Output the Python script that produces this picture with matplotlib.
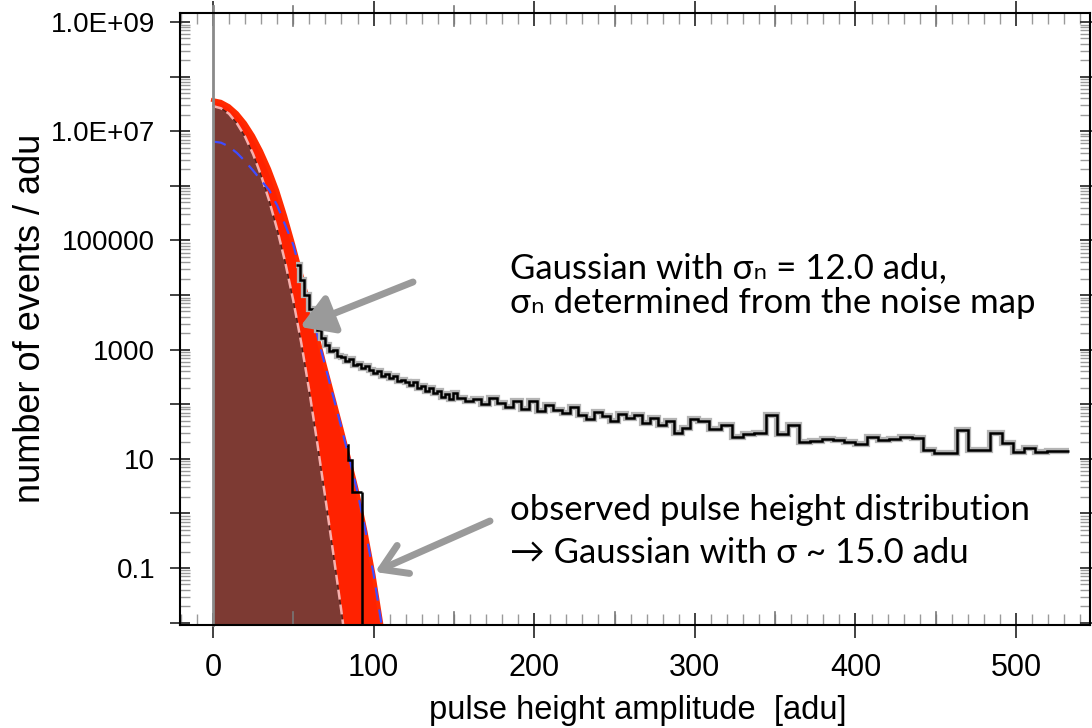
import numpy as np
import matplotlib.pyplot as plt
from matplotlib.ticker import FixedLocator, MultipleLocator, NullFormatter, FuncFormatter, LogLocator

plt.rcParams['font.family'] = ['Liberation Sans', 'DejaVu Sans']

# Gaussian curves (log10 of events / adu)
curve_x = [0, 5, 10, 15, 20, 25, 30, 35, 40, 45, 50, 55, 60, 65, 70, 75, 80, 85, 90, 95, 100, 105]
red_log = [7.57, 7.54, 7.46, 7.33, 7.15, 6.92, 6.64, 6.31, 5.92, 5.45, 4.93, 4.38,
           3.82, 3.25, 2.68, 2.12, 1.56, 0.98, 0.38, -0.33, -1.12, -2.05]
blue_log = [6.81, 6.79, 6.72, 6.60, 6.45, 6.28, 6.10, 5.92, 5.64, 5.28, 4.92, 4.38,
            3.83, 3.26, 2.69, 2.13, 1.57, 0.99, 0.39, -0.32, -1.11, -2.04]
noise_x = [0, 5, 10, 15, 20, 25, 30, 35, 40, 45, 50, 55, 60, 65, 70, 75, 80, 82]
noise_log = [7.46, 7.42, 7.32, 7.14, 6.90, 6.58, 6.19, 5.73, 5.20, 4.60, 3.90, 3.12,
             2.24, 1.28, 0.28, -0.75, -1.80, -2.25]

# observed histogram (log10 counts), bins get wider with amplitude
edges = np.concatenate([np.arange(52, 152, 2.5), np.arange(152, 302, 5), np.arange(302, 534, 7)])
tail_near = [4.55, 4.28, 4.00, 3.75, 3.50, 3.35, 3.22, 3.08, 2.98, 3.00,
             2.88, 2.86, 2.80, 2.83, 2.72, 2.74, 2.66, 2.70, 2.62, 2.58,
             2.60, 2.52, 2.56, 2.48, 2.52, 2.42, 2.45, 2.40, 2.36, 2.41,
             2.30, 2.33, 2.25, 2.30, 2.20, 2.24, 2.14, 2.18, 2.10, 2.20]
tail_mid = [2.12, 2.05, 2.10, 2.00, 2.12, 2.02, 1.95, 2.05, 1.92, 2.05,
            1.88, 1.98, 1.90, 1.84, 1.95, 1.80, 1.72, 1.85, 1.78, 1.70,
            1.82, 1.75, 1.80, 1.66, 1.74, 1.62, 1.70, 1.48, 1.56, 1.72]
tail_far = [1.70, 1.55, 1.62, 1.40, 1.45, 1.48, 1.80, 1.45, 1.62, 1.30,
            1.32, 1.36, 1.34, 1.30, 1.28, 1.40, 1.34, 1.36, 1.40, 1.38,
            1.16, 1.10, 1.10, 1.53, 1.16, 1.16, 1.47, 1.29, 1.13, 1.19,
            1.13, 1.15, 1.15]
# small step piece at the foot of the gaussian
foot_edges = [83.5, 84.1, 86.3, 92.5]
foot_log = [1.25, 0.98, 0.40]

ytick_text = {9: '1.0E+09', 7: '1.0E+07', 5: '100000', 3: '1000', 1: '10', -1: '0.1'}
mid_ticks = [50, 150, 250, 350, 450]

ymin, ymax = 10**-2.044, 10**9.165
floor = 1e-4

fig = plt.figure(figsize=(10.92, 7.28), dpi=100)
W, H = 1092, 728
ax = fig.add_axes([180 / W, 1 - 625 / H, 910 / W, 612 / H])

red = 10.0 ** np.array(red_log)
blue = 10.0 ** np.array(blue_log)
noise = 10.0 ** np.array(noise_log)
counts = 10.0 ** np.array(tail_near + tail_mid + tail_far)
foot = 10.0 ** np.array(foot_log)

ax.fill_between(curve_x, floor, red, color='#ff2200', lw=0, zorder=2)
ax.plot(curve_x, red, color='#ff2a00', lw=2.8, zorder=3)
ax.fill_between(noise_x, floor, noise, color='#7d3a33', lw=0, zorder=4)
ax.plot(noise_x, noise, color='#4a1e1a', lw=0.8, zorder=5)
ax.plot(noise_x, noise, color='#f7b0ad', lw=1.8, dashes=(4, 2), zorder=5)
ax.plot(curve_x, blue, color='#3f4cff', lw=1.6, dashes=(6, 4), zorder=6)

ax.stairs(counts, edges, baseline=None, color='#b4b4b4', lw=4.5, zorder=7)
ax.stairs(counts, edges, baseline=None, color='black', lw=1.8, zorder=8)
ax.stairs(foot, foot_edges, baseline=None, color='black', lw=1.8, zorder=8)
ax.vlines(foot_edges[-1], floor, foot[-1], color='black', lw=1.8, zorder=8)

ax.axvline(0, ymin=0, ymax=1.012, color='#8a8a8a', lw=2, clip_on=False, zorder=9)

ax.set_yscale('log')
ax.set_xlim(-20.5, 546)
ax.set_ylim(ymin, ymax)

ax.xaxis.set_major_locator(MultipleLocator(100))
ax.xaxis.set_minor_locator(MultipleLocator(10))
ax.yaxis.set_major_locator(FixedLocator([10.0 ** k for k in range(-2, 10)]))
ax.yaxis.set_major_formatter(FuncFormatter(lambda v, p: ytick_text.get(int(round(np.log10(v))), '')))
ax.yaxis.set_minor_locator(LogLocator(base=10, subs=np.arange(2, 10), numticks=40))
ax.yaxis.set_minor_formatter(NullFormatter())

ax.tick_params(axis='both', which='major', direction='inout', width=1.3, top=True, right=True,
               color='#333333')
ax.tick_params(axis='x', which='major', length=18, pad=11, labelsize=22)
ax.tick_params(axis='y', which='major', length=14, pad=11, labelsize=20)
ax.tick_params(axis='both', which='minor', direction='in', width=1, color='#9a9a9a',
               top=True, right=True)
ax.tick_params(axis='x', which='minor', length=8)
ax.tick_params(axis='y', which='minor', length=7)
# half-way ticks on the amplitude axis are a bit longer
xt = ax.get_xaxis_transform()
for v in mid_ticks:
    ax.plot([v, v], [0, 0.022], transform=xt, color='#777777', lw=1.2, zorder=10, clip_on=False)
    ax.plot([v, v], [0.978, 1.012], transform=xt, color='#777777', lw=1.2, zorder=10, clip_on=False)
for s in ax.spines.values():
    s.set_linewidth(1.5)
    s.set_zorder(10)

fig.text(31 / W, 1 - 318 / H, 'number of events / adu', rotation=90, ha='center', va='center', fontsize=26)
fig.text(638 / W, 17 / H, 'pulse height amplitude  [adu]', ha='center', va='center', fontsize=23.5)

note = dict(fontsize=25, family=['Lato', 'DejaVu Sans'], ha='left', va='center', color='black')
fig.text(510 / W, 1 - 268 / H, 'Gaussian with σₙ = 12.0 adu,', **note)
fig.text(510 / W, 1 - 303 / H, 'σₙ determined from the noise map', **note)
fig.text(510 / W, 1 - 510 / H, 'observed pulse height distribution', **note)
fig.text(510 / W, 1 - 553 / H, '→ Gaussian with σ ~ 15.0 adu', **note)

ax.annotate('', xy=(300, H - 327), xytext=(413, H - 282), xycoords='figure pixels',
            arrowprops=dict(arrowstyle='-|>,head_length=0.9,head_width=0.55', color='#9a9a9a',
                            lw=5, shrinkA=0, shrinkB=0, mutation_scale=22), zorder=11)
ax.annotate('', xy=(375, H - 572), xytext=(490, H - 521), xycoords='figure pixels',
            arrowprops=dict(arrowstyle='->,head_length=0.8,head_width=0.5', color='#9a9a9a',
                            lw=5, shrinkA=0, shrinkB=0, mutation_scale=22), zorder=11)

fig.savefig('out.png', dpi=100)
